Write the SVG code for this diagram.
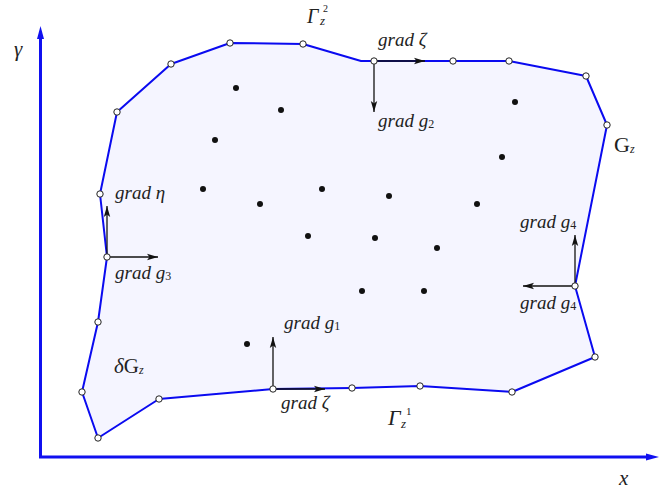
<svg xmlns="http://www.w3.org/2000/svg" width="669" height="489" viewBox="0 0 669 489">
<style>
.t{font-family:"Liberation Serif","Times New Roman",serif;font-style:italic;font-size:19px;fill:#222}
.s{font-family:"Liberation Serif","Times New Roman",serif;font-style:normal;font-size:12px;fill:#222}
.zs{font-family:"Liberation Serif","Times New Roman",serif;font-style:italic;font-size:13px;fill:#222}
.axis{stroke:#1010f0;stroke-width:3;fill:none}
.region{fill:#f5f5ff;stroke:#0a0af0;stroke-width:2;stroke-linejoin:round}
.v{fill:#fff;stroke:#222;stroke-width:1}
.d{fill:#111}
.arr{stroke:#111;stroke-width:1.3;fill:none;marker-end:url(#ah)}
</style>
<defs>
<marker id="ah" markerUnits="userSpaceOnUse" markerWidth="12" markerHeight="8" refX="11" refY="4" orient="auto">
<path d="M0,0.8 L11,4 L0,7.2 L2.5,4 z" fill="#111"/>
</marker>
</defs>

<g id="axes">
<path class="axis" d="M40.5,457 V38"/>
<path d="M40.5,26 L37,39 L44,39 z" fill="#1010f0"/>
<path class="axis" d="M39,457 H648"/>
<path d="M659,457 L646,453.5 L646,460.5 z" fill="#1010f0"/>
<text class="t" x="14" y="56" style="font-size:21px">γ</text>
<text class="t" x="619" y="485" style="font-size:21px">x</text>
</g>

<g id="region">
<polygon class="region" points="230,43 303,44 361,61 374,61 453,61 509,61 586,76 607,125 575,286 595,357 512,392 420,386 352,388 273,389 159,399 98,438 82,392 98,322 107,257 100,194 117,112 171,64"/>
</g>

<g id="points">
<circle class="d" cx="236" cy="88" r="3"/>
<circle class="d" cx="281" cy="110" r="3"/>
<circle class="d" cx="215" cy="140" r="3"/>
<circle class="d" cx="203" cy="189" r="3"/>
<circle class="d" cx="260" cy="204" r="3"/>
<circle class="d" cx="322" cy="189" r="3"/>
<circle class="d" cx="389" cy="196" r="3"/>
<circle class="d" cx="477" cy="204" r="3"/>
<circle class="d" cx="515" cy="102" r="3"/>
<circle class="d" cx="502" cy="157" r="3"/>
<circle class="d" cx="308" cy="236" r="3"/>
<circle class="d" cx="375" cy="238" r="3"/>
<circle class="d" cx="437" cy="248" r="3"/>
<circle class="d" cx="362" cy="291" r="3"/>
<circle class="d" cx="424" cy="291" r="3"/>
<circle class="d" cx="247" cy="344" r="3"/>
</g>

<g id="connectors">
<path class="arr" d="M374,61 H425"/>
<path class="arr" d="M374,61 V112"/>
<path class="arr" d="M107,257 V206"/>
<path class="arr" d="M107,257 H158"/>
<path class="arr" d="M273,389 V337"/>
<path class="arr" d="M273,389 H325"/>
<path class="arr" d="M575,286 V235"/>
<path class="arr" d="M575,286 H523"/>
</g>

<g id="vertices">
<circle class="v" cx="230" cy="43" r="3.2"/>
<circle class="v" cx="303" cy="44" r="3.2"/>
<circle class="v" cx="374" cy="61" r="3.2"/>
<circle class="v" cx="453" cy="61" r="3.2"/>
<circle class="v" cx="509" cy="61" r="3.2"/>
<circle class="v" cx="586" cy="76" r="3.2"/>
<circle class="v" cx="607" cy="125" r="3.2"/>
<circle class="v" cx="575" cy="286" r="3.2"/>
<circle class="v" cx="595" cy="357" r="3.2"/>
<circle class="v" cx="512" cy="392" r="3.2"/>
<circle class="v" cx="420" cy="386" r="3.2"/>
<circle class="v" cx="352" cy="388" r="3.2"/>
<circle class="v" cx="273" cy="389" r="3.2"/>
<circle class="v" cx="159" cy="399" r="3.2"/>
<circle class="v" cx="98" cy="438" r="3.2"/>
<circle class="v" cx="82" cy="392" r="3.2"/>
<circle class="v" cx="98" cy="322" r="3.2"/>
<circle class="v" cx="107" cy="257" r="3.2"/>
<circle class="v" cx="100" cy="194" r="3.2"/>
<circle class="v" cx="117" cy="112" r="3.2"/>
<circle class="v" cx="171" cy="64" r="3.2"/>
</g>

<g id="labels">
<text class="t" x="307" y="23" style="font-size:20px">Γ</text>
<text class="zs" x="320" y="25">z</text>
<text class="s" x="323" y="12" style="font-size:10px">2</text>

<text class="t" x="388" y="425" style="font-size:22px">Γ</text>
<text class="zs" x="401" y="428">z</text>
<text class="s" x="406" y="415" style="font-size:11px">1</text>

<text class="t" x="378" y="46">grad ζ</text>
<text class="t" x="378" y="127">grad g<tspan class="s" dy="1">2</tspan></text>
<text class="t" x="115" y="199">grad η</text>
<text class="t" x="115" y="279">grad g<tspan class="s" dy="1">3</tspan></text>
<text class="t" x="284" y="329">grad g<tspan class="s" dy="1">1</tspan></text>
<text class="t" x="281" y="409">grad ζ</text>
<text class="t" x="520" y="228">grad g<tspan class="s" dy="1">4</tspan></text>
<text class="t" x="520" y="309">grad g<tspan class="s" dy="1">4</tspan></text>
<text class="t" x="114" y="373" style="font-size:21px">δ<tspan style="font-style:normal">G</tspan><tspan class="zs" dy="1" style="font-size:12px">z</tspan></text>
<text class="t" x="614" y="152" style="font-size:22px;font-style:normal">G<tspan class="zs" dy="1" style="font-size:12px">z</tspan></text>
</g>
</svg>
